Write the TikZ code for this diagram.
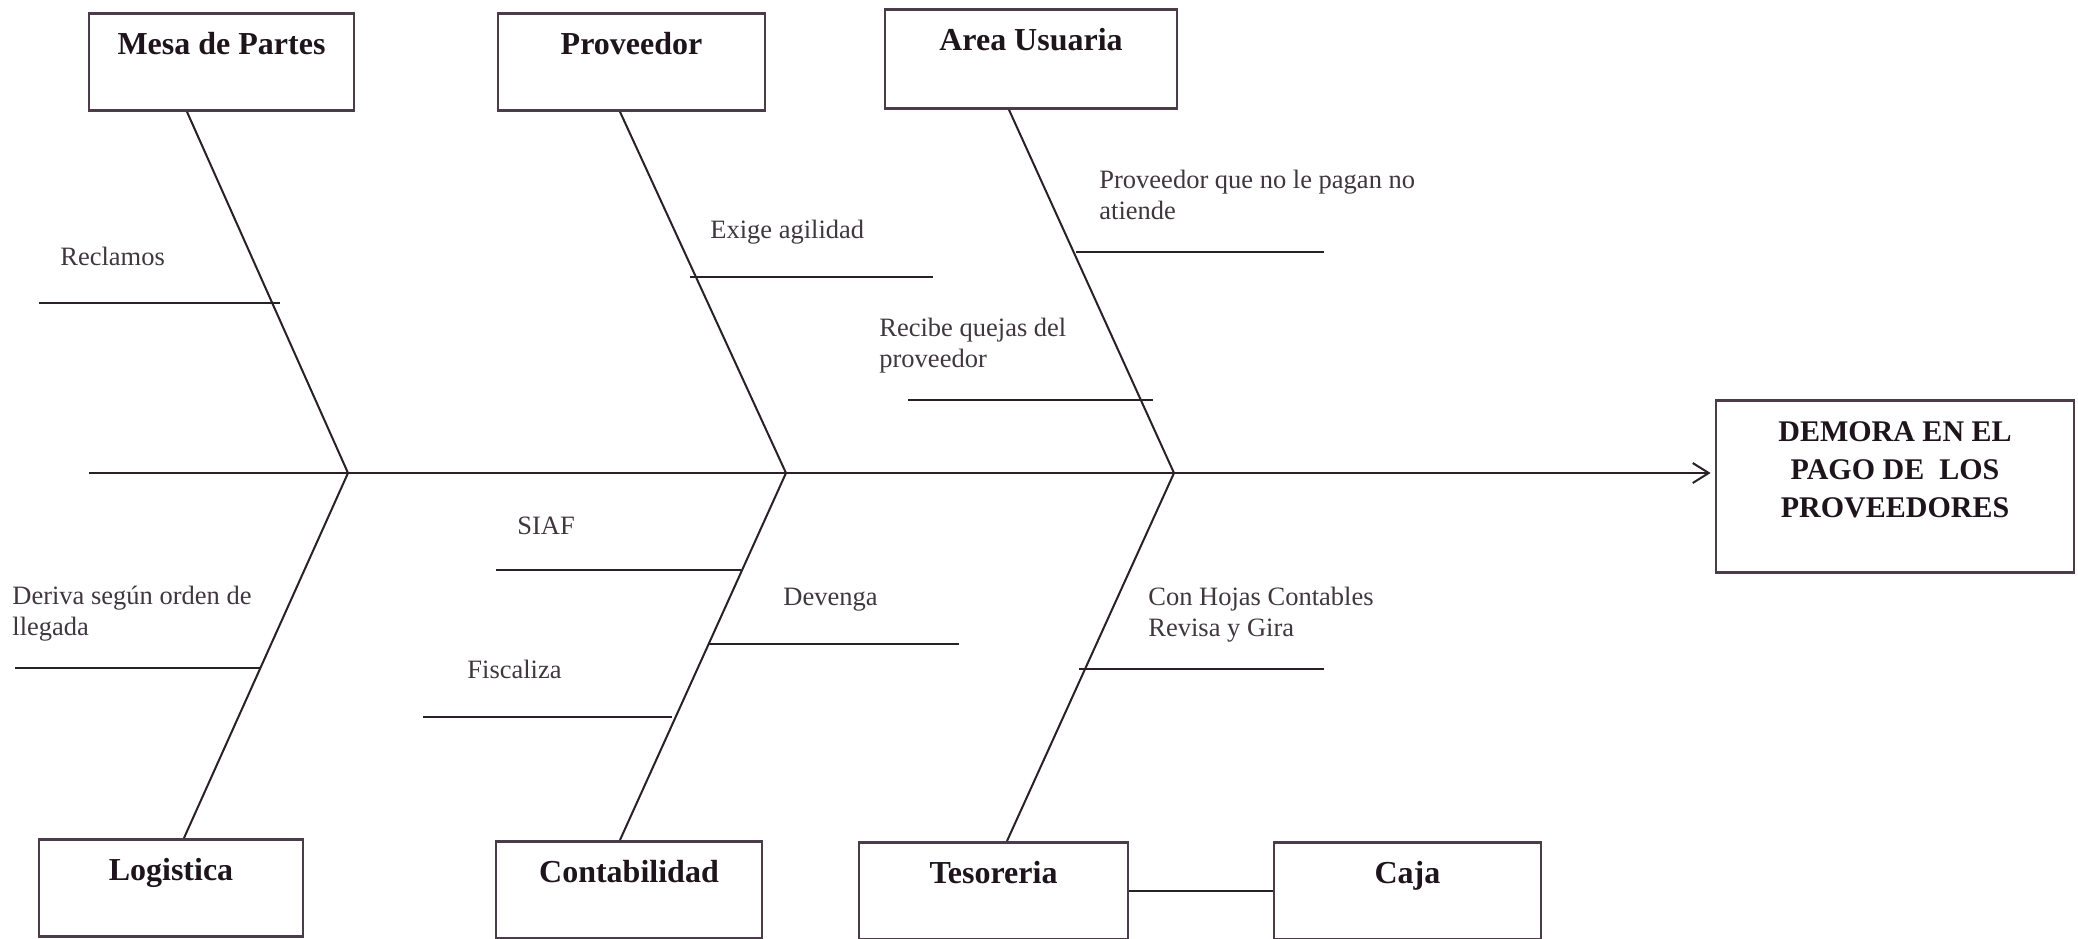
\documentclass[tikz,border=0pt]{standalone}
\usepackage{fontspec}
\setmainfont{Liberation Serif}
\usetikzlibrary{arrows.meta}
\definecolor{ink}{HTML}{1E141C}
\definecolor{frame}{HTML}{4A3C48}
\definecolor{bone}{HTML}{2A2028}
\tikzset{
  box/.style={draw=frame, line width=1.4pt, inner xsep=0pt, inner ysep=0pt,
    text height=20.5pt, text depth=28pt, text=ink,
    font=\bfseries\fontsize{16}{19}\selectfont},
  effect/.style={draw=frame, line width=1.4pt, inner sep=0pt, align=center,
    text=ink, font=\bfseries\fontsize{15}{19}\selectfont},
  lbl/.style={anchor=base west, inner sep=0pt, align=left, text=ink!85,
    font=\fontsize{13.25}{15.5}\selectfont},
  spine/.style={draw=bone, line width=1pt},
  cause/.style={draw=bone, line width=1.3pt},
}
\begin{document}
\begin{tikzpicture}[x=0.5pt,y=-0.5pt]
\useasboundingbox (0,0) rectangle (2078,938);
% boxes
\node[box, minimum width=132.5pt, anchor=north] (mesa) at (221.5,12) {Mesa de Partes};
\node[box, minimum width=133.5pt, anchor=north] (prov) at (631.5,12) {Proveedor};
\node[box, minimum width=146pt, text depth=29pt, anchor=north] (area) at (1031,8) {Area Usuaria};
\node[box, minimum width=132pt, anchor=north] (logi) at (171,838) {Logistica};
\node[box, minimum width=133pt, anchor=north] (conta) at (629,840) {Contabilidad};
\node[box, minimum width=134.5pt, anchor=north] (teso) at (993.5,841) {Tesoreria};
\node[box, minimum width=133.5pt, anchor=north] (caja) at (1407.5,841) {Caja};
\node[effect, minimum width=179pt, text height=58.5pt, text depth=27.5pt, inner ysep=0pt, anchor=north] (demora) at (1895,399)
  {DEMORA EN EL\\PAGO DE\ \ LOS\\PROVEEDORES};
% junctions
\coordinate (tail) at (89,473);
\coordinate (j1) at (348,473);
\coordinate (j2) at (786,473);
\coordinate (j3) at (1174,473);
% main spine
\draw[spine, -{Straight Barb[length=8pt,width=10pt,line width=1pt]}, shorten >=2pt] (tail) -- (demora.west |- tail);
% bones
\draw[spine] (mesa.south -| 187,0) -- (j1);
\draw[spine] (prov.south -| 620,0) -- (j2);
\draw[spine] (area.south -| 1009,0) -- (j3);
\draw[spine] (j1) -- (logi.north -| 184,0);
\draw[spine] (j2) -- (conta.north -| 620,0);
\draw[spine] (j3) -- (teso.north -| 1007,0);
\draw[spine] (teso) -- (caja);
% causes
\draw[cause] (39,303) -- (280,303);
\node[lbl] (t1) at (60,265) {Reclamos};
\draw[cause] (690,277) -- (933,277);
\node[lbl] (t2) at (710,238) {Exige agilidad};
\draw[cause] (1076,252) -- (1324,252);
\node[lbl] (t3) at (1099,219) {Proveedor que no le pagan no\\atiende};
\draw[cause] (908,400) -- (1153,400);
\node[lbl] (t4) at (879,367) {Recibe quejas del\\proveedor};
\draw[cause] (15,668) -- (260,668);
\node[lbl] (t5) at (12,635) {Deriva según orden de\\llegada};
\draw[cause] (496,570) -- (741,570);
\node[lbl] (t6) at (517,534) {SIAF};
\draw[cause] (423,717) -- (672,717);
\node[lbl] (t7) at (467,678) {Fiscaliza};
\draw[cause] (709,644) -- (959,644);
\node[lbl] (t8) at (783,605) {Devenga};
\draw[cause] (1079,669) -- (1324,669);
\node[lbl] (t9) at (1148,636) {Con Hojas Contables\\Revisa y Gira};
\end{tikzpicture}
\end{document}
